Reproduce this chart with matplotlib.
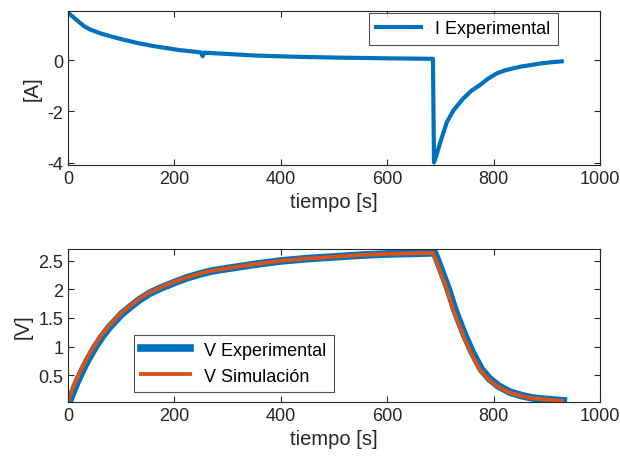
import numpy as np
import matplotlib.pyplot as plt

plt.rcParams['font.family'] = ['Liberation Sans', 'DejaVu Sans']
plt.rcParams['axes.unicode_minus'] = False

# Corriente experimental
t_i = [0, 10, 20, 30, 41, 50, 60, 80, 100, 130, 160, 210, 250, 253, 256, 300, 350,
       430, 500, 600, 686, 688, 692, 700, 712, 725, 743, 758, 774, 790, 806, 820,
       837, 852, 868, 885, 905, 928]
i_exp = [1.85, 1.68, 1.5, 1.33, 1.2, 1.13, 1.05, 0.93, 0.82, 0.67, 0.55, 0.39, 0.3, 0.15,
         0.29, 0.24, 0.18, 0.13, 0.1, 0.07, 0.05, -4.0, -3.75, -3.2, -2.43, -1.95, -1.5,
         -1.2, -0.98, -0.72, -0.52, -0.41, -0.32, -0.25, -0.2, -0.14, -0.09, -0.05]

# Tension experimental y simulada
t_vsim = [0, 4, 10, 15, 25, 35, 48, 60, 75, 98, 115, 130, 150, 173, 200, 220, 245, 267,
          300, 350, 400, 450, 500, 550, 600, 650, 686, 692, 700, 712, 725, 743, 758, 774,
          790, 806, 828, 850, 870, 890, 928]
v_sim = [0.05, 0.15, 0.29, 0.4, 0.6, 0.78, 0.99, 1.16, 1.34, 1.57, 1.7, 1.81, 1.93, 2.03,
         2.13, 2.2, 2.27, 2.32, 2.37, 2.44, 2.5, 2.54, 2.57, 2.6, 2.62, 2.63, 2.64, 2.5,
         2.3, 2.0, 1.62, 1.19, 0.88, 0.6, 0.43, 0.31, 0.2, 0.14, 0.1, 0.08, 0.05]
t_vexp = [3, 7, 13, 18, 28, 38, 51, 63, 78, 101, 118, 133, 153, 176, 203, 223, 248, 270,
          303, 353, 403, 453, 503, 553, 603, 653, 689, 695, 703, 715, 728, 746, 761, 777,
          793, 809, 831, 853, 873, 893, 931]
v_exp = [0.05, 0.15, 0.29, 0.4, 0.6, 0.78, 0.99, 1.16, 1.34, 1.57, 1.7, 1.81, 1.93, 2.03,
         2.13, 2.2, 2.27, 2.32, 2.37, 2.44, 2.5, 2.54, 2.57, 2.6, 2.62, 2.63, 2.64, 2.5,
         2.3, 2.0, 1.62, 1.19, 0.88, 0.6, 0.43, 0.31, 0.2, 0.14, 0.1, 0.08, 0.05]

azul = '#0072BD'
naranja = '#D95319'
gris = '#262626'

fig = plt.figure(figsize=(6.2, 4.6), dpi=100)
ax1 = fig.add_axes([0.1097, 0.639, 0.858, 0.335])
ax2 = fig.add_axes([0.1097, 0.124, 0.858, 0.333])

ax1.plot(t_i, i_exp, color=azul, linewidth=3, label='I Experimental')
ax1.set_xlim(0, 1000)
ax1.set_ylim(-4.1, 1.92)
ax1.set_yticks([-4, -2, 0])
ax1.set_xlabel('tiempo [s]', fontsize=14.5, color=gris)
ax1.set_ylabel('[A]', fontsize=14.5, color=gris)
leg1 = ax1.legend(loc='upper right', bbox_to_anchor=(0.921, 0.985), fontsize=13,
                  handlelength=2.5, fancybox=False, edgecolor=gris, borderaxespad=0)

ax2.plot(t_vexp, v_exp, color=azul, linewidth=5.5, label='V Experimental')
ax2.plot(t_vsim, v_sim, color=naranja, linewidth=2.8, label='V Simulación')
ax2.set_xlim(0, 1000)
ax2.set_ylim(0.03, 2.71)
ax2.set_yticks([0.5, 1, 1.5, 2, 2.5])
ax2.set_yticklabels(['0.5', '1', '1.5', '2', '2.5'])
ax2.set_xlabel('tiempo [s]', fontsize=14.5, color=gris)
ax2.set_ylabel('[V]', fontsize=14.5, color=gris)
leg2 = ax2.legend(loc='lower left', bbox_to_anchor=(0.124, 0.065), fontsize=13,
                  handlelength=2.7, fancybox=False, edgecolor=gris, borderaxespad=0)

for ax in (ax1, ax2):
    ax.tick_params(direction='in', top=True, right=True, labelsize=13,
                   colors=gris, length=4, width=0.8)
    for s in ax.spines.values():
        s.set_color(gris)
        s.set_linewidth(0.8)
for leg in (leg1, leg2):
    leg.get_frame().set_linewidth(0.8)
    for txt in leg.get_texts():
        txt.set_color('black')

fig.savefig('out.png', dpi=100)
